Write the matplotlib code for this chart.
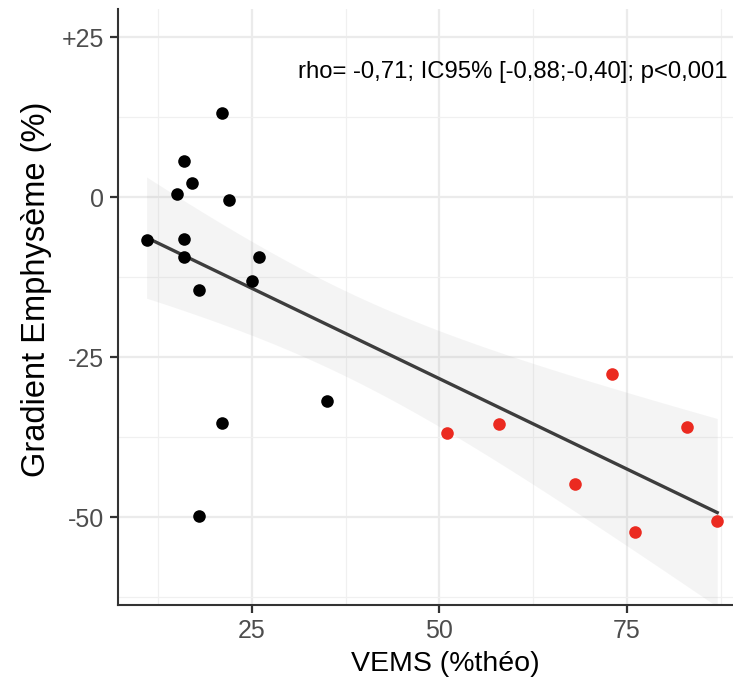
import numpy as np
import matplotlib
matplotlib.use('Agg')
import matplotlib.pyplot as plt

plt.rcParams['font.family'] = ['Liberation Sans', 'DejaVu Sans']

# VEMS (%theo) vs gradient emphyseme (%)
vems_black = [11, 15, 16, 17, 21, 22, 16, 16, 18, 26, 25, 35, 21, 18]
grad_black = [-6.7, 0.5, 5.6, 2.2, 13.2, -0.4, -6.5, -9.4, -14.5, -9.4, -13.1, -31.9, -35.3, -49.8]
vems_red = [51, 58, 73, 68, 83, 76, 87]
grad_red = [-36.9, -35.5, -27.7, -44.9, -35.9, -52.3, -50.6]

x_ticks = [25, 50, 75]
y_ticks = [25, 0, -25, -50]
y_tick_labels = ['+25', '0', '-25', '-50']
annot = 'rho= -0,71; IC95% [-0,88;-0,40]; p<0,001'

# linear fit + 95% confidence band (like geom_smooth(method="lm"))
x = np.array(vems_black + vems_red, dtype=float)
y = np.array(grad_black + grad_red, dtype=float)
n = len(x)
slope, intercept = np.polyfit(x, y, 1)
resid = y - (intercept + slope * x)
s = np.sqrt(np.sum(resid ** 2) / (n - 2))
t_crit = 2.093  # t(0.975, df=19)
xs = np.linspace(x.min(), x.max(), 100)
ys = intercept + slope * xs
se = s * np.sqrt(1 / n + (xs - x.mean()) ** 2 / np.sum((x - x.mean()) ** 2))

fig = plt.figure(figsize=(7.33, 6.88), dpi=100)
ax = fig.add_axes([118 / 733, 83 / 688, 1 - 118 / 733, (605 - 9) / 688])

ax.fill_between(xs, ys - t_crit * se, ys + t_crit * se, color='#999999', alpha=0.1,
                linewidth=0, zorder=2)
ax.plot(xs, ys, color='#3d3d3d', linewidth=2.4, zorder=3)
ax.scatter(vems_black, grad_black, s=82, color='black', linewidths=0, zorder=4)
ax.scatter(vems_red, grad_red, s=82, color='#EB2A20', linewidths=0, zorder=4)

ax.set_xlim(7.2, 89.1)
ax.set_ylim(-63.75, 29.4)
ax.set_xticks(x_ticks)
ax.set_yticks(y_ticks)
ax.set_yticklabels(y_tick_labels)
ax.set_xticks([12.5, 37.5, 62.5, 87.5], minor=True)
ax.set_yticks([12.5, -12.5, -37.5, -62.5], minor=True)

ax.grid(True, which='major', color='#ebebeb', linewidth=1.6, zorder=0)
ax.grid(True, which='minor', color='#f0f0f0', linewidth=0.9, zorder=0)
ax.set_axisbelow(True)

for side in ['top', 'right']:
    ax.spines[side].set_visible(False)
for side in ['left', 'bottom']:
    ax.spines[side].set_color('#333333')
    ax.spines[side].set_linewidth(1.5)

ax.tick_params(which='major', length=6, width=1.6, color='#333333',
               labelsize=18, labelcolor='#4d4d4d', pad=4)
ax.tick_params(which='minor', length=0)

ax.set_xlabel('VEMS (%théo)', fontsize=20.5, labelpad=6)
ax.set_ylabel('Gradient Emphysème (%)', fontsize=23.5, labelpad=7)
# panel is cropped at top/right in the original, so titles sit off-centre
ax.xaxis.label.set_x(0.532)
ax.yaxis.label.set_y(0.53)

fig.text(727 / 733, 1 - 72 / 688, annot, ha='right', va='center', fontsize=17.2,
         color='black')

fig.savefig('out.png', dpi=100)
